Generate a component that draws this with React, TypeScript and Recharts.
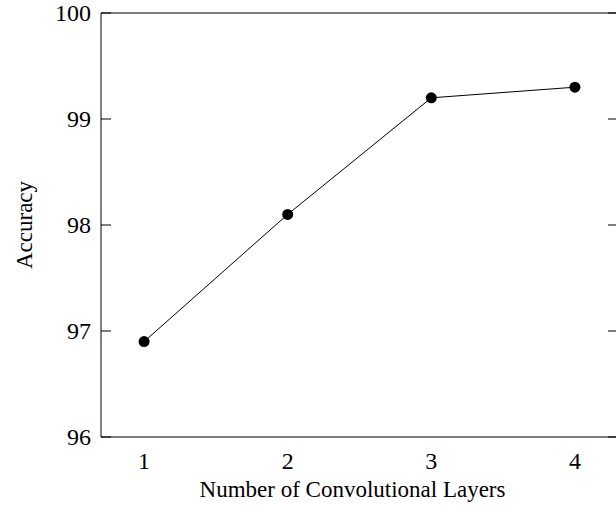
import React from "react";
import { LineChart, Line, XAxis, YAxis, ReferenceLine } from "recharts";

const layers = [1, 2, 3, 4];
const accuracy = [96.9, 98.1, 99.2, 99.3];
const xTicks = [1, 2, 3, 4];
const yTicks = [96, 97, 98, 99, 100];
const xDomain = [0.7, 4.3];
const yDomain = [96, 100];
const xLabel = "Number of Convolutional Layers";
const yLabel = "Accuracy";

const data = layers.map((l, i) => ({ layers: l, accuracy: accuracy[i] }));

const FONT = "'Liberation Serif', 'Times New Roman', serif";
const FS = 24;
const PLOT_RIGHT = 618;
const TICK_LEN = 10;
const GAP = 10;

const YTick = (props: any) => {
  const { x, y, payload } = props;
  const axisX = x + GAP;
  return (
    <g>
      <line x1={axisX} y1={y} x2={axisX + TICK_LEN} y2={y} stroke="#000" strokeWidth={1} />
      <line x1={PLOT_RIGHT - TICK_LEN} y1={y} x2={PLOT_RIGHT} y2={y} stroke="#000" strokeWidth={1} />
      <text x={x} y={y} dy="0.35em" textAnchor="end" fill="#000" fontSize={FS} fontFamily={FONT}>
        {payload.value}
      </text>
    </g>
  );
};

const XTick = (props: any) => {
  const { x, y, payload } = props;
  return (
    <text x={x} y={y} dy="0.72em" textAnchor="middle" fill="#000" fontSize={FS} fontFamily={FONT}>
      {payload.value}
    </text>
  );
};

export default function App() {
  return (
    <div style={{ position: "absolute", left: 0, top: 0, width: 616, height: 512, overflow: "hidden", background: "#fff", fontFamily: FONT }}>
      <LineChart width={640} height={512} data={data} margin={{ top: 13, right: 640 - PLOT_RIGHT, bottom: 0, left: 0 }}>
        <XAxis
          xAxisId="bottom"
          dataKey="layers"
          type="number"
          domain={xDomain}
          ticks={xTicks}
          height={75}
          tickLine={false}
          tickSize={0}
          tickMargin={15}
          axisLine={{ stroke: "#000", strokeWidth: 1 }}
          tick={<XTick />}
          label={{ value: xLabel, position: "insideBottom", offset: 15, dx: -7, fill: "#000", fontSize: 23, fontFamily: FONT }}
        />
        <YAxis
          yAxisId="left"
          type="number"
          domain={yDomain}
          ticks={yTicks}
          width={101}
          tickSize={0}
          tickMargin={GAP}
          tickLine={false}
          axisLine={{ stroke: "#000", strokeWidth: 1 }}
          tick={<YTick />}
          label={{ value: yLabel, angle: -90, position: "insideLeft", offset: 24, fill: "#000", fontSize: 23, fontFamily: FONT, style: { textAnchor: "middle" } }}
        />
        <ReferenceLine xAxisId="bottom" yAxisId="left" y={yDomain[1]} stroke="#000" strokeWidth={1} ifOverflow="visible" />
        <ReferenceLine xAxisId="bottom" yAxisId="left" x={xDomain[1]} stroke="#000" strokeWidth={1} ifOverflow="visible" />
        <Line
          xAxisId="bottom"
          yAxisId="left"
          type="linear"
          dataKey="accuracy"
          stroke="#000"
          strokeWidth={1}
          dot={{ r: 5.5, fill: "#000", stroke: "#000", strokeWidth: 0 }}
          activeDot={false}
          isAnimationActive={false}
        />
      </LineChart>
    </div>
  );
}
